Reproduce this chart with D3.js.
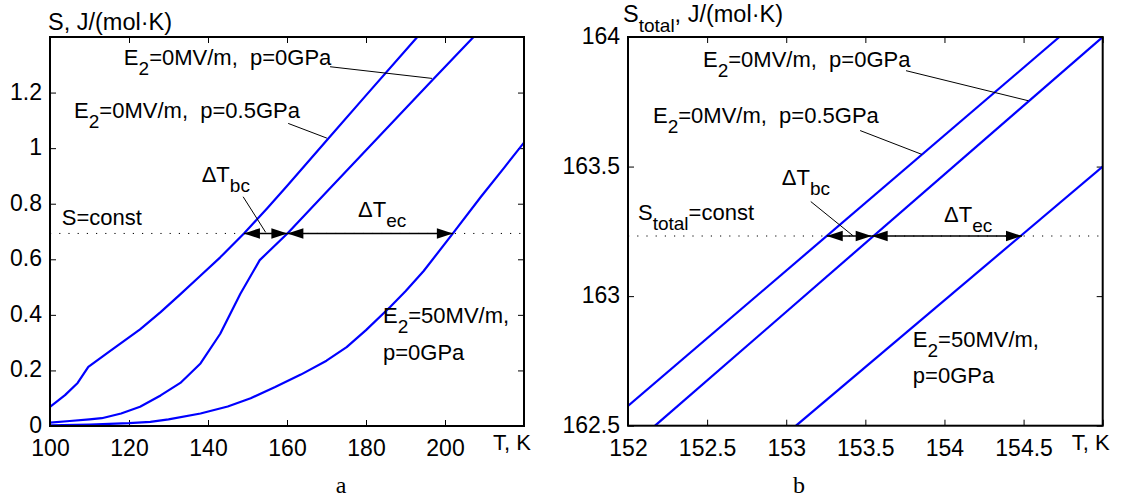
<!DOCTYPE html>
<html>
<head>
<meta charset="utf-8">
<script src="https://cdn.jsdelivr.net/npm/d3@7"></script>
<style>
  body { margin: 0; background: #fff; }
  text { font-family: "Liberation Sans", Arial, sans-serif; white-space: pre; fill: #000; }
</style>
</head>
<body>
<div id="chart"></div>
<script>
// ---- panel a: entropy vs temperature ----
const tA_p05 = [100, 103.8, 107, 109.7, 115, 122.8, 128, 132.9, 138, 143.1, 149.1, 155, 160, 170.3, 180, 192.6, 200];
const sA_p05 = [0.069, 0.111, 0.155, 0.213, 0.268, 0.348, 0.41, 0.473, 0.54, 0.607, 0.693, 0.784, 0.864, 1.032, 1.19, 1.394, 1.51];

const tA_p0 = [100, 105, 110, 113.1, 118, 122.8, 128, 133, 138.1, 143.1, 148.2, 153.1, 160.1, 170, 180, 196.95, 206.8, 210];
const sA_p0 = [0.012, 0.018, 0.024, 0.028, 0.045, 0.069, 0.11, 0.155, 0.225, 0.332, 0.476, 0.597, 0.693, 0.842, 0.992, 1.247, 1.394, 1.44];

const tA_e50 = [100, 110, 120, 125.4, 130, 138.1, 145, 150.8, 157, 163.5, 170, 175.1, 180, 186.1, 190, 194.6, 202, 209.1, 215, 220];
const sA_e50 = [0.002, 0.005, 0.01, 0.015, 0.024, 0.045, 0.07, 0.1, 0.14, 0.185, 0.235, 0.284, 0.345, 0.428, 0.485, 0.558, 0.693, 0.825, 0.93, 1.02];

const sA_const = 0.693;
const tA_cross = [149.1, 160.1, 202.0];   // where S=const meets the three curves

const xTicksA = [100, 120, 140, 160, 180, 200, 220];
const yTicksA = [0, 0.2, 0.4, 0.6, 0.8, 1, 1.2, 1.4];

// ---- panel b: total entropy, zoomed in ----
const tB_p05 = [152, 154.726];
const sB_p05 = [162.576, 164];
const tB_p0 = [152.171, 155];
const sB_p0 = [162.5, 164];
const tB_e50 = [153.062, 155];
const sB_e50 = [162.5, 163.5];

const sB_const = 163.232;
const tB_cross = [153.256, 153.54, 154.49];

const xTicksB = [152, 152.5, 153, 153.5, 154, 154.5, 155];
const yTicksB = [162.5, 163, 163.5, 164];

const W = 1121, H = 501;
const fontSize = 22, tickFont = 23, subSize = 19, subShift = 10;

const svg = d3.select("#chart").append("svg")
    .attr("width", W)
    .attr("height", H);

// text with subscripts: parts = [[str], [str, "sub"], ...]
function richText(g, x, y, parts, size) {
    const t = g.append("text")
        .attr("x", x)
        .attr("y", y)
        .attr("font-size", size || fontSize);
    let inSub = false;
    parts.forEach(p => {
        const sp = t.append("tspan").text(p[0]);
        if (p[1] === "sub") {
            sp.attr("font-size", subSize).attr("dy", inSub ? 0 : subShift);
            inSub = true;
        } else {
            if (inSub) sp.attr("dy", -subShift);
            inSub = false;
        }
    });
    return t;
}

function drawPanel(cfg) {
    const x = d3.scaleLinear().domain(cfg.xDomain).range([cfg.left, cfg.right]);
    const y = d3.scaleLinear().domain(cfg.yDomain).range([cfg.bottom, cfg.top]);
    const g = svg.append("g");

    g.append("clipPath").attr("id", cfg.id + "-clip")
        .append("rect")
        .attr("x", cfg.left).attr("y", cfg.top)
        .attr("width", cfg.right - cfg.left).attr("height", cfg.bottom - cfg.top);

    const fmt = d3.format("~g");
    const lastX = cfg.xTicks[cfg.xTicks.length - 1];

    // axes, ticks pointing inwards like matlab
    g.append("g")
        .attr("transform", `translate(0,${cfg.bottom})`)
        .call(d3.axisBottom(x).tickValues(cfg.xTicks)
            .tickSizeInner(-6).tickSizeOuter(0).tickPadding(14)
            .tickFormat(d => d === lastX ? "" : fmt(d)));
    const yAxis = g.append("g")
        .attr("transform", `translate(${cfg.left},0)`)
        .call(d3.axisLeft(y).tickValues(cfg.yTicks)
            .tickSizeInner(-6).tickSizeOuter(0).tickPadding(8)
            .tickFormat(d => cfg.yHide.includes(d) ? "" : fmt(d)));
    yAxis.selectAll(".tick text").attr("dy", "0.28em");
    g.append("g")
        .attr("transform", `translate(0,${cfg.top})`)
        .call(d3.axisTop(x).tickValues(cfg.xTicks).tickSizeInner(-6).tickSizeOuter(0).tickFormat(""));
    g.append("g")
        .attr("transform", `translate(${cfg.right},0)`)
        .call(d3.axisRight(y).tickValues(cfg.yTicks).tickSizeInner(-6).tickSizeOuter(0).tickFormat(""));

    g.selectAll(".domain").remove();
    g.selectAll(".tick line").attr("stroke", "#000").attr("stroke-width", 1);
    g.selectAll(".tick text")
        .attr("font-size", tickFont)
        .attr("font-family", "Liberation Sans, Arial, sans-serif")
        .attr("fill", "#000");

    // S = const dotted line
    g.append("line")
        .attr("x1", cfg.left).attr("x2", cfg.right)
        .attr("y1", y(cfg.sConst)).attr("y2", y(cfg.sConst))
        .attr("stroke", "#000")
        .attr("stroke-width", 1)
        .attr("stroke-dasharray", "1.2,8");

    // the three curves
    const line = d3.line().x(d => x(d[0])).y(d => y(d[1]));
    const curves = g.append("g").attr("clip-path", `url(#${cfg.id}-clip)`);
    cfg.curves.forEach(c => {
        curves.append("path")
            .datum(d3.zip(c[0], c[1]))
            .attr("d", line)
            .attr("fill", "none")
            .attr("stroke", "#0000ff")
            .attr("stroke-width", 2.2)
            .attr("stroke-linejoin", "round");
    });

    // box
    g.append("rect")
        .attr("x", cfg.left).attr("y", cfg.top)
        .attr("width", cfg.right - cfg.left).attr("height", cfg.bottom - cfg.top)
        .attr("fill", "none")
        .attr("stroke", "#000")
        .attr("stroke-width", 2);

    // double arrows between crossings
    const ay = y(cfg.sConst);
    const head = 16, half = 5.3;
    [[cfg.cross[0], cfg.cross[1]], [cfg.cross[1], cfg.cross[2]]].forEach(pair => {
        const xa = x(pair[0]), xb = x(pair[1]);
        g.append("line")
            .attr("x1", xa).attr("x2", xb).attr("y1", ay).attr("y2", ay)
            .attr("stroke", "#000").attr("stroke-width", 1.5);
        g.append("path")
            .attr("d", `M${xa},${ay}L${xa + head},${ay - half}L${xa + head},${ay + half}Z`)
            .attr("fill", "#000");
        g.append("path")
            .attr("d", `M${xb},${ay}L${xb - head},${ay - half}L${xb - head},${ay + half}Z`)
            .attr("fill", "#000");
    });

    // leader lines
    cfg.leaders.forEach(l => {
        g.append("line")
            .attr("x1", x(l[0])).attr("y1", y(l[1]))
            .attr("x2", x(l[2])).attr("y2", y(l[3]))
            .attr("stroke", "#000").attr("stroke-width", 1);
    });

    // labels
    cfg.labels.forEach(l => richText(g, x(l.t), y(l.s), l.parts));

    // axis name on x
    g.append("text")
        .attr("x", cfg.right - 31).attr("y", 450)
        .attr("font-size", fontSize)
        .text("T, K");

    // panel letter
    g.append("text")
        .attr("x", cfg.letterX).attr("y", 493)
        .attr("text-anchor", "middle")
        .attr("font-size", 24)
        .style("font-family", "Liberation Serif, Times New Roman, serif")
        .text(cfg.letter);

    return { x, y, g };
}

const pA = drawPanel({
    id: "a",
    xDomain: [100, 220], yDomain: [0, 1.4],
    left: 50, right: 524, top: 37, bottom: 426,
    xTicks: xTicksA, yTicks: yTicksA, yHide: [1.4],
    curves: [[tA_p05, sA_p05], [tA_p0, sA_p0], [tA_e50, sA_e50]],
    sConst: sA_const, cross: tA_cross,
    leaders: [
        [170.9, 1.293, 196.7, 1.251],
        [160.3, 1.089, 170.1, 1.036],
        [148.9, 0.825, 154.6, 0.697]
    ],
    labels: [
        { t: 118.7, s: 1.299, parts: [["E"], ["2", "sub"], ["=0MV/m,  p=0GPa"]] },
        { t: 106.1, s: 1.108, parts: [["E"], ["2", "sub"], ["=0MV/m,  p=0.5GPa"]] },
        { t: 138.4, s: 0.878, parts: [["\u0394T"], ["bc", "sub"]] },
        { t: 178.0, s: 0.752, parts: [["\u0394T"], ["ec", "sub"]] },
        { t: 103.0, s: 0.723, parts: [["S=const"]] },
        { t: 184.3, s: 0.371, parts: [["E"], ["2", "sub"], ["=50MV/m,"]] },
        { t: 184.3, s: 0.2375, parts: [["p=0GPa"]] }
    ],
    letter: "a", letterX: 341
});

const pB = drawPanel({
    id: "b",
    xDomain: [152, 155], yDomain: [162.5, 164],
    left: 628, right: 1102.7, top: 37, bottom: 425.7,
    xTicks: xTicksB, yTicks: yTicksB, yHide: [],
    curves: [[tB_p05, sB_p05], [tB_p0, sB_p0], [tB_e50, sB_e50]],
    sConst: sB_const, cross: tB_cross,
    leaders: [
        [153.757, 163.870, 154.530, 163.754],
        [153.467, 163.639, 153.857, 163.547],
        [153.155, 163.365, 153.424, 163.232]
    ],
    labels: [
        { t: 152.474, s: 163.886, parts: [["E"], ["2", "sub"], ["=0MV/m,  p=0GPa"]] },
        { t: 152.158, s: 163.668, parts: [["E"], ["2", "sub"], ["=0MV/m,  p=0.5GPa"]] },
        { t: 152.972, s: 163.429, parts: [["\u0394T"], ["bc", "sub"]] },
        { t: 153.997, s: 163.287, parts: [["\u0394T"], ["ec", "sub"]] },
        { t: 152.063, s: 163.294, parts: [["S"], ["total", "sub"], ["=const"]] },
        { t: 153.80, s: 162.805, parts: [["E"], ["2", "sub"], ["=50MV/m,"]] },
        { t: 153.80, s: 162.665, parts: [["p=0GPa"]] }
    ],
    letter: "b", letterX: 799
});

// y axis titles
richText(svg, 48, 30, [["S, J/(mol\u00b7K)"]], 23.5);
richText(svg, 623, 22, [["S"], ["total", "sub"], [", J/(mol\u00b7K)"]], 23.5);
</script>
</body>
</html>
